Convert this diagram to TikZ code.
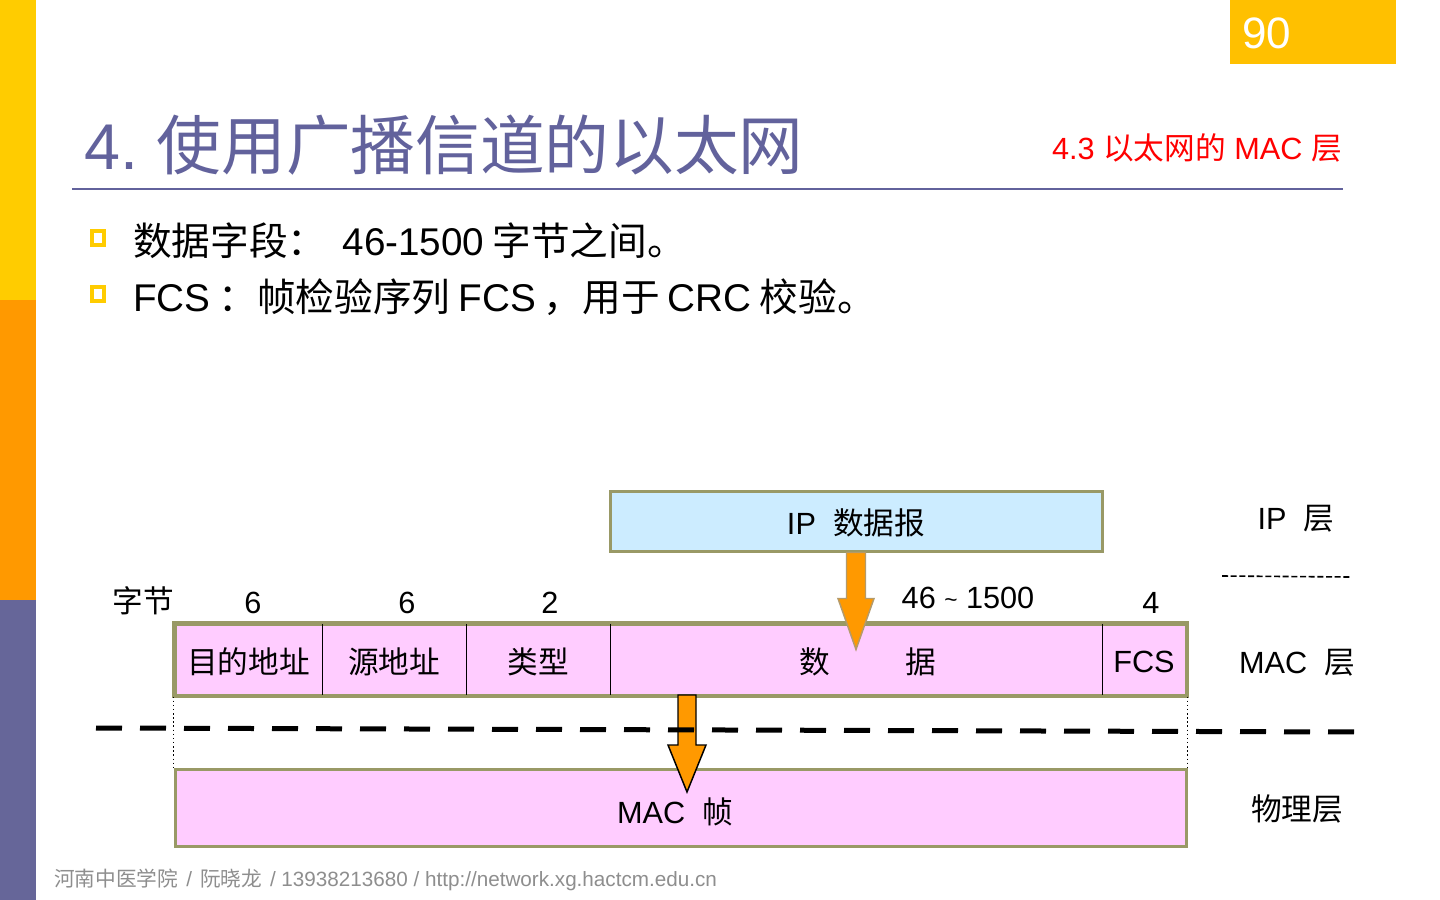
\documentclass[tikz,border=0pt]{standalone}
\usepackage{fontspec}
\setmainfont{Liberation Sans}
\newfontfamily\cjk{Noto Sans CJK SC}
\usetikzlibrary{fit,calc}
\definecolor{barY}{HTML}{FFCC00}
\definecolor{barO}{HTML}{FF9900}
\definecolor{barP}{HTML}{666699}
\definecolor{pagebox}{HTML}{FFC000}
\definecolor{titlec}{HTML}{62629C}
\definecolor{ipblue}{HTML}{CCECFF}
\definecolor{pinkf}{HTML}{FFCCFF}
\definecolor{olive}{HTML}{999966}
\definecolor{arroworange}{HTML}{FF9900}
\definecolor{arrowedge}{HTML}{B49A6A}
\definecolor{footgray}{HTML}{8E8E8E}
\newcommand{\fs}[1]{\fontsize{#1}{1.2\dimexpr#1\relax}\selectfont}
\begin{document}
\begin{tikzpicture}[x=0.75pt,y=-0.75pt,
  box/.style={draw=olive, line width=2.25pt, inner sep=0pt},
  cell/.style={inner sep=0pt},
  divider/.style={draw=black, line width=1.1pt},
  lbl/.style={inner sep=0pt, font=\fs{23pt}},
  bulletbox/.style={draw=barY, fill=white, line width=3pt, minimum width=9pt, minimum height=10.5pt, inner sep=0pt},
  bodytext/.style={inner sep=0pt, anchor=west, font=\fs{29pt}},
  blockarrow/.style={fill=arroworange, line width=1.1pt, line join=miter}
]
\useasboundingbox (0,0) rectangle (1440,900);
\fill[white] (0,0) rectangle (1440,900);
% left bars
\fill[barY] (0,0) rectangle (36,300);
\fill[barO] (0,300) rectangle (36,600);
\fill[barP] (0,600) rectangle (36,900);
% page number
\node[fill=pagebox, minimum width=124.5pt, minimum height=48pt, inner sep=0pt, anchor=north west] (pg) at (1230,0) {};
\node[text=white, font=\fs{33pt}, inner sep=0pt, anchor=west] (pgnum) at (1242,33) {90};
% title
\node[text=titlec, font=\fs{48.5pt}, inner sep=0pt, anchor=west] (title) at (84,145) {4.\hspace{14pt}{\cjk 使用广播信道的以太网}};
\node[text=red, font=\fs{23pt}, inner sep=0pt, anchor=east] (sub) at (1342,148) {4.3 {\cjk 以太网的} MAC {\cjk 层}};
\coordinate (rl) at (72,189);
\coordinate (rr) at (1343,189);
\draw[titlec, line width=1.5pt] (rl) -- (rr);
% bullets
\node[bulletbox] (b1) at (98,238) {};
\node[bulletbox] (b2) at (98,294) {};
\node[bodytext] (t1) at (133,241) {{\cjk 数据字段：}\hspace{12pt}46-1500\hspace{6pt}{\cjk 字节之间。}};
\node[bodytext] (t2) at (133,297) {FCS\hspace{6pt}{\cjk ：帧检验序列}\hspace{6pt}FCS\hspace{6pt}{\cjk ，用于}\hspace{6pt}CRC\hspace{6pt}{\cjk 校验。}};
% IP box
\node[box, fill=ipblue, fit={(610,491) (1102,551)}, label={[lbl, yshift=-1.5pt]center:IP\ \ {\cjk 数据报}}] (ip) {};
% MAC row
\node[box, fill=pinkf, fit={(175,624) (1186,695)}] (macrow) {};
\node[cell, fit={(175,624) (322,695)}, label={[lbl, yshift=-2pt]center:{\cjk 目的地址}}] (f1) {};
\node[cell, fit={(322,624) (466,695)}, label={[lbl, yshift=-2pt]center:{\cjk 源地址}}] (f2) {};
\node[cell, fit={(466,624) (610,695)}, label={[lbl, yshift=-2pt]center:{\cjk 类型}}] (f3) {};
\node[cell, fit={(610,624) (1102,695)}, label={[lbl, yshift=-2pt]center:\hspace{18pt}{\cjk 数}\hspace{57pt}{\cjk 据}}] (f4) {};
\node[cell, fit={(1102,624) (1186,695)}, label={[lbl, yshift=-2pt]center:FCS}] (f5) {};
\draw[divider] (f1.north east) -- (f1.south east);
\draw[divider] (f2.north east) -- (f2.south east);
\draw[divider] (f3.north east) -- (f3.south east);
\draw[divider] (f4.north east) -- (f4.south east);
\draw[box, fill=none] (macrow.north west) rectangle (macrow.south east);
% byte counts
\node[lbl] (bytes) at (143,601) {\cjk 字节};
\node[lbl] (n1) at (253,603) {6};
\node[lbl] (n2) at (407,603) {6};
\node[lbl] (n3) at (550,603) {2};
\node[lbl] (n4) at (968,598) {46 \raisebox{1pt}{\fs{17pt}\char"007E} 1500};
\node[lbl] (n5) at (1151,603) {4};
% physical box
\node[box, fill=pinkf, fit={(175,769) (1186,846)}] (phys) {};
\node[lbl] (physlbl) at (675,812) {MAC\ \ {\cjk 帧}};
% dotted verticals
\draw[line width=1.1pt, dotted] (macrow.south west) -- (phys.north west);
\draw[line width=1.1pt, dotted] (macrow.south east) -- (phys.north east);
% top arrow
\draw[blockarrow, draw=arrowedge]
  ($(ip.south)+(-9.5,0)$) -- ($(ip.south)+(-9.5,46)$) -- ($(ip.south)+(-18,46)$) --
  ($(ip.south)+(0,97)$) -- ($(ip.south)+(18,46)$) -- ($(ip.south)+(9.5,46)$) --
  ($(ip.south)+(9.5,0)$) -- cycle;
% bottom arrow
\coordinate (a2) at (687,695);
\draw[blockarrow, draw=black]
  ($(a2)+(-9,0)$) -- ($(a2)+(-9,50)$) -- ($(a2)+(-19,50)$) --
  ($(a2)+(0,97)$) -- ($(a2)+(19,50)$) -- ($(a2)+(9,50)$) --
  ($(a2)+(9,0)$) -- cycle;
% thick dashed separator
\coordinate (dl) at (96,728);
\coordinate (dr) at (1360,732);
\draw[line width=3.75pt, dash pattern=on 19.5pt off 13.5pt] (dl) -- (dr);
% right labels
\node[lbl] (lip) at (1296,519) {IP\ \ {\cjk 层}};
\coordinate (sl) at (1222,576);
\coordinate (sr) at (1350,577);
\draw[line width=1.2pt, dash pattern=on 4.5pt off 2pt] (sl) -- (sr);
\node[lbl] (lmac) at (1297,663) {MAC\ \ {\cjk 层}};
\node[lbl] (lphy) at (1297,809) {\cjk 物理层};
% footer
\node[text=footgray, font=\fs{15.5pt}, inner sep=0pt, anchor=west] (foot) at (54,880)
  {{\cjk 河南中医学院}\hspace{6pt}/\hspace{6pt}{\cjk 阮晓龙}\hspace{6pt}/ 13938213680 / http://network.xg.hactcm.edu.cn};
\end{tikzpicture}
\end{document}
